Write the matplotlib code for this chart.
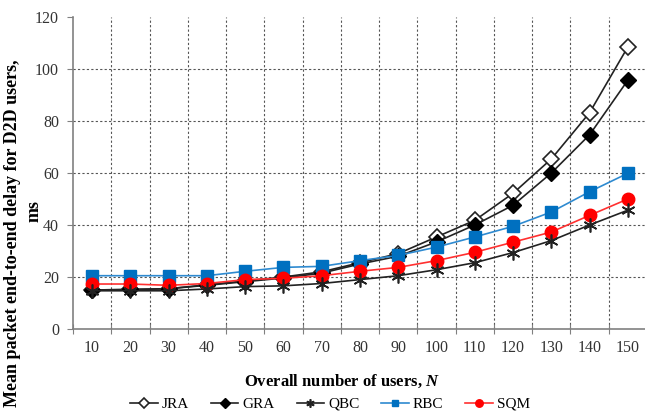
import numpy as np
import matplotlib
matplotlib.use("Agg")
import matplotlib.pyplot as plt
from matplotlib.ticker import FixedLocator, NullFormatter

# データ
users = [10, 20, 30, 40, 50, 60, 70, 80, 90, 100, 110, 120, 130, 140, 150]
jra = [15.0, 15.2, 15.5, 17.0, 18.5, 20.0, 22.0, 25.5, 29.0, 35.4, 41.8, 52.2, 65.4, 83.2, 108.5]
gra = [15.0, 15.2, 15.5, 16.8, 18.2, 19.6, 21.5, 25.0, 28.0, 33.5, 40.0, 47.6, 60.0, 74.7, 95.7]
qbc = [14.7, 14.7, 14.7, 15.4, 16.3, 16.6, 17.5, 19.0, 20.5, 22.8, 25.5, 29.4, 34.0, 40.0, 45.7]
rbc = [20.5, 20.5, 20.5, 20.5, 22.2, 23.7, 24.1, 26.3, 28.3, 31.5, 35.4, 39.5, 45.0, 52.8, 59.9]
sqm = [17.3, 17.3, 16.8, 17.5, 19.0, 19.5, 20.5, 22.2, 23.7, 26.3, 29.5, 33.4, 37.3, 43.7, 50.0]

plt.rcParams['font.family'] = ['Liberation Serif', 'DejaVu Serif']
plt.rcParams['mathtext.fontset'] = 'custom'
plt.rcParams['mathtext.bfit'] = 'Liberation Serif:italic:bold'
plt.rcParams['mathtext.it'] = 'Liberation Serif:italic'
plt.rcParams['mathtext.rm'] = 'Liberation Serif'

fig = plt.figure(figsize=(6.45, 4.16), dpi=100)
ax = fig.add_axes([73 / 645, 1 - 329 / 416, 574 / 645, 312 / 416])

x = np.arange(len(users))
ax.plot(x, jra, color='#222222', lw=1.2, marker='D', ms=8, mfc='white', mec='#222222', mew=1.2, label='JRA', zorder=3)
ax.plot(x, gra, color='#222222', lw=1.2, marker='D', ms=8, mfc='black', mec='black', label='GRA', zorder=3)
ax.plot(x, qbc, color='#222222', lw=1.2, marker=(6, 2, 0), ms=10, mec='#222222', mew=1.2, label='QBC', zorder=4)
ax.plot(x, rbc, color='#2E8AD0', lw=1.2, marker='s', ms=8, mfc='#0070C0', mec='#0070C0', label='RBC', zorder=3)
ax.plot(x, sqm, color='#FF3030', lw=1.2, marker='o', ms=9, mfc='#FF0000', mec='#FF0000', label='SQM', zorder=3)

ax.set_xlim(-0.5, 14.5)
ax.set_ylim(0, 120)
ax.set_yticks(np.arange(0, 121, 20))

# x軸: 目盛りは区切り、ラベルはカテゴリ中央
ax.xaxis.set_major_locator(FixedLocator(np.arange(-0.5, 15, 1)))
ax.xaxis.set_major_formatter(NullFormatter())
ax.xaxis.set_minor_locator(FixedLocator(x))
ax.set_xticklabels([str(u) for u in users], minor=True)
ax.tick_params(axis='x', which='minor', length=0, labelsize=11.5, pad=8, colors='#333333')
ax.tick_params(axis='x', which='major', direction='inout', length=7, color='#808080')
ax.tick_params(axis='y', direction='out', length=4, color='#808080', labelsize=11.5, pad=6, labelcolor='#333333')

ax.grid(True, axis='both', which='major', linestyle=(0, (2, 2)), color='#555555', lw=0.8)
ax.set_axisbelow(True)
ax.yaxis.get_gridlines()[-1].set_visible(False)
ax.yaxis.get_gridlines()[0].set_visible(False)
ax.xaxis.get_gridlines()[0].set_visible(False)

for s in ['top', 'right']:
    ax.spines[s].set_visible(False)
for s in ['left', 'bottom']:
    ax.spines[s].set_color('#808080')
    ax.spines[s].set_linewidth(1.2)

ax.set_xlabel('Overall number of users, $\\mathbfit{N}$', fontsize=12, fontweight='bold')
ax.xaxis.set_label_coords((342 - 73) / 574, -(373 - 329) / 312)

fig.text(13 / 645, 1 - 233 / 416, 'Mean packet end-to-end delay for D2D users,',
         rotation=90, ha='center', va='center', fontsize=13, fontweight='bold')
fig.text(34 / 645, 1 - 211 / 416, 'ms',
         rotation=90, ha='center', va='center', fontsize=13, fontweight='bold')

fig.legend(loc='center', bbox_to_anchor=(330 / 645, 1 - 404 / 416), ncol=5, frameon=False,
           fontsize=11, handlelength=1.8, columnspacing=1.45, handletextpad=0.25, markerscale=0.6)

fig.savefig('out.png', dpi=100)
